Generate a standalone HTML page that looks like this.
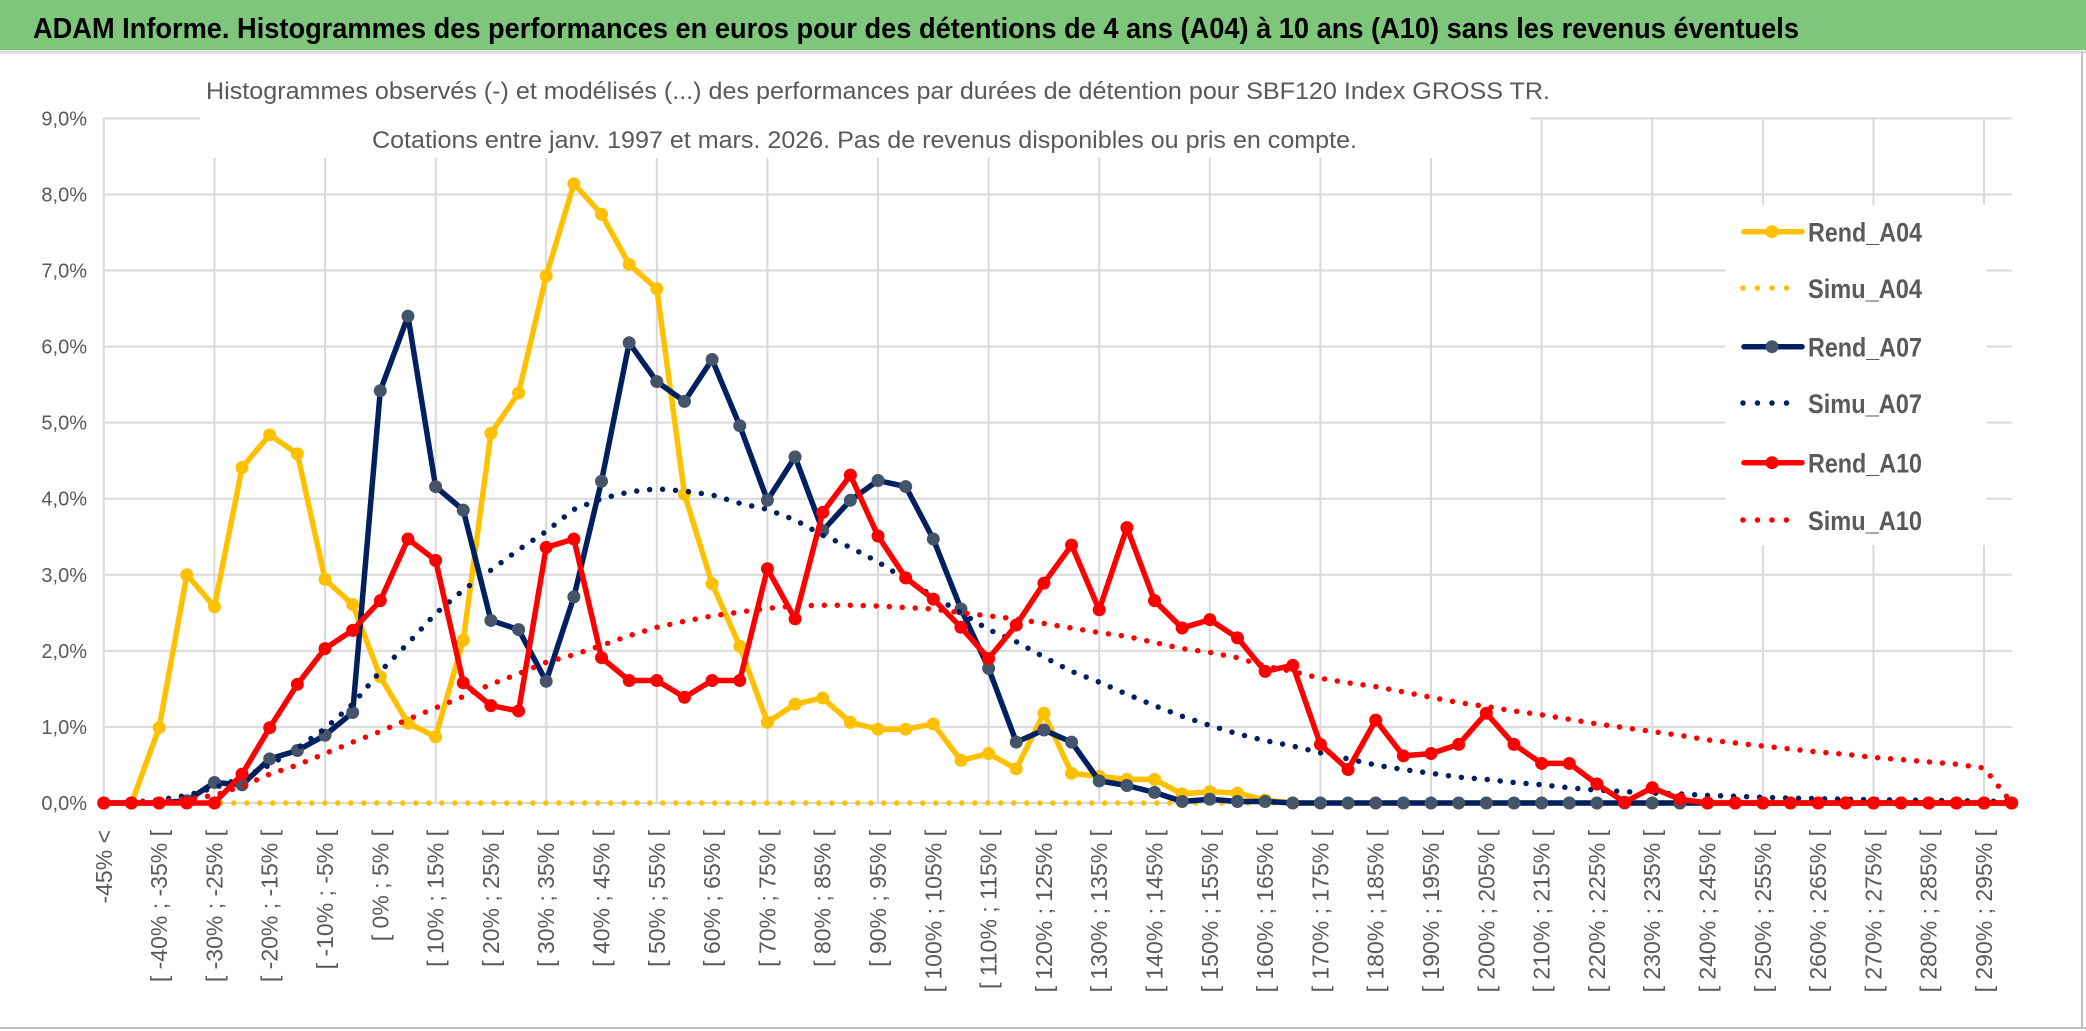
<!DOCTYPE html>
<html><head><meta charset="utf-8">
<style>
html,body{margin:0;padding:0;background:#fff;}
svg{display:block;font-family:"Liberation Sans",sans-serif;}
</style></head>
<body>
<svg id="chart" width="2086" height="1031" viewBox="0 0 2086 1031" xmlns="http://www.w3.org/2000/svg">
  <rect x="0" y="0" width="2086" height="1031" fill="#ffffff"/>
  <rect x="0" y="0" width="2086" height="50" fill="#7DC67C"/>
  <line x1="0" y1="52" x2="2086" y2="52" stroke="#d9d9d9" stroke-width="3"/>
  <text x="33" y="38" font-size="29" font-weight="bold" fill="#000" textLength="1766" lengthAdjust="spacingAndGlyphs">ADAM Informe. Histogrammes des performances en euros pour des détentions de 4 ans (A04) à 10 ans (A10) sans les revenus éventuels</text>
  <line x1="2082" y1="52" x2="2082" y2="1028" stroke="#bfbfbf" stroke-width="2"/>
  <line x1="0" y1="1028" x2="2086" y2="1028" stroke="#bfbfbf" stroke-width="2"/>
  <g id="grid"></g>
  <g id="yticks"></g>
  <g id="xticks"></g>
  <rect x="200" y="62" width="1330" height="96" fill="#ffffff"/>
  <text x="206" y="99" font-size="24" fill="#595959" textLength="1344" lengthAdjust="spacingAndGlyphs">Histogrammes observés (-) et modélisés (...) des performances par durées de détention pour SBF120 Index GROSS TR.</text>
  <text x="372" y="148" font-size="24" fill="#595959" textLength="985" lengthAdjust="spacingAndGlyphs">Cotations entre janv. 1997 et mars. 2026. Pas de revenus disponibles ou pris en compte.</text>
  <g id="series"></g>
  <g id="legend"></g>
</svg>
<script>
const categories = ["-45% <","[ -45% ; -40% [","[ -40% ; -35% [","[ -35% ; -30% [","[ -30% ; -25% [","[ -25% ; -20% [","[ -20% ; -15% [","[ -15% ; -10% [","[ -10% ; -5% [","[ -5% ; 0% [",
"[ 0% ; 5% [","[ 5% ; 10% [","[ 10% ; 15% [","[ 15% ; 20% [","[ 20% ; 25% [","[ 25% ; 30% [","[ 30% ; 35% [","[ 35% ; 40% [","[ 40% ; 45% [","[ 45% ; 50% [",
"[ 50% ; 55% [","[ 55% ; 60% [","[ 60% ; 65% [","[ 65% ; 70% [","[ 70% ; 75% [","[ 75% ; 80% [","[ 80% ; 85% [","[ 85% ; 90% [","[ 90% ; 95% [","[ 95% ; 100% [",
"[ 100% ; 105% [","[ 105% ; 110% [","[ 110% ; 115% [","[ 115% ; 120% [","[ 120% ; 125% [","[ 125% ; 130% [","[ 130% ; 135% [","[ 135% ; 140% [","[ 140% ; 145% [","[ 145% ; 150% [",
"[ 150% ; 155% [","[ 155% ; 160% [","[ 160% ; 165% [","[ 165% ; 170% [","[ 170% ; 175% [","[ 175% ; 180% [","[ 180% ; 185% [","[ 185% ; 190% [","[ 190% ; 195% [","[ 195% ; 200% [",
"[ 200% ; 205% [","[ 205% ; 210% [","[ 210% ; 215% [","[ 215% ; 220% [","[ 220% ; 225% [","[ 225% ; 230% [","[ 230% ; 235% [","[ 235% ; 240% [","[ 240% ; 245% [","[ 245% ; 250% [",
"[ 250% ; 255% [","[ 255% ; 260% [","[ 260% ; 265% [","[ 265% ; 270% [","[ 270% ; 275% [","[ 275% ; 280% [","[ 280% ; 285% [","[ 285% ; 290% [","[ 290% ; 295% [","[ 295% ; 300% ["];
const yTickValues = [0,1,2,3,4,5,6,7,8,9];
const yTickLabels = ["0,0%","1,0%","2,0%","3,0%","4,0%","5,0%","6,0%","7,0%","8,0%","9,0%"];
const rendA04 = [0,0,0.99,3.0,2.58,4.41,4.84,4.59,2.94,2.61,1.66,1.05,0.87,2.14,4.86,5.39,6.93,8.14,7.74,7.08,6.76,4.06,2.88,2.06,1.06,1.3,1.38,1.06,0.97,0.97,1.04,0.56,0.65,0.45,1.18,0.39,0.35,0.31,0.31,0.12,0.15,0.13,0.04,0,0,0,0,0,0,0,0,0,0,0,0,0,0,0,0,0,0,0,0,0,0,0,0,0,0,0];
const simuA04 = [0,0,0,0,0,0,0,0,0,0,0,0,0,0,0,0,0,0,0,0,0,0,0,0,0,0,0,0,0,0,0,0,0,0,0,0,0,0,0,0,0,0,0,0,0,0,0,0,0,0,0,0,0,0,0,0,0,0,0,0,0,0,0,0,0,0,0,0,0,0];
const rendA07 = [0,0,0,0.03,0.27,0.24,0.58,0.69,0.89,1.19,5.42,6.4,4.16,3.85,2.4,2.28,1.6,2.71,4.23,6.05,5.54,5.28,5.83,4.96,3.98,4.55,3.58,3.98,4.24,4.16,3.47,2.55,1.77,0.8,0.96,0.8,0.29,0.23,0.14,0.02,0.05,0.02,0.02,0,0,0,0,0,0,0,0,0,0,0,0,0,0,0,0,0,0,0,0,0,0,0,0,0,0,0];
const simuA07 = [0,0.01,0.04,0.1,0.2,0.33,0.5,0.72,0.98,1.3,1.73,2.1,2.49,2.8,3.06,3.33,3.57,3.86,4.0,4.09,4.13,4.1,4.05,3.94,3.86,3.72,3.52,3.36,3.17,2.94,2.72,2.5,2.28,2.12,1.92,1.73,1.59,1.43,1.28,1.14,1.02,0.91,0.82,0.75,0.66,0.58,0.5,0.44,0.39,0.34,0.31,0.27,0.24,0.2,0.17,0.15,0.13,0.12,0.1,0.09,0.075,0.065,0.057,0.05,0.044,0.04,0.035,0.03,0.025,0.02];
const rendA10 = [0,0,0,0,0,0.38,0.99,1.56,2.03,2.27,2.66,3.47,3.19,1.58,1.28,1.21,3.36,3.47,1.91,1.61,1.61,1.39,1.61,1.61,3.08,2.42,3.82,4.31,3.51,2.96,2.68,2.31,1.9,2.34,2.89,3.39,2.54,3.62,2.66,2.3,2.41,2.17,1.73,1.81,0.77,0.44,1.09,0.62,0.65,0.77,1.18,0.77,0.52,0.52,0.25,0.01,0.2,0.05,0,0,0,0,0,0,0,0,0,0,0,0];
const simuA10 = [0,0.01,0.02,0.05,0.1,0.22,0.38,0.5,0.65,0.8,0.94,1.1,1.25,1.4,1.56,1.7,1.85,1.95,2.07,2.2,2.31,2.39,2.46,2.51,2.56,2.59,2.6,2.6,2.59,2.57,2.55,2.5,2.46,2.42,2.36,2.3,2.24,2.19,2.11,2.03,1.98,1.91,1.8,1.73,1.64,1.58,1.53,1.46,1.39,1.32,1.27,1.21,1.16,1.1,1.04,0.99,0.94,0.89,0.83,0.79,0.75,0.71,0.67,0.64,0.6,0.57,0.54,0.51,0.46,0];
const seriesNames = ["Rend_A04","Simu_A04","Rend_A07","Simu_A07","Rend_A10","Simu_A10"];

const NS = "http://www.w3.org/2000/svg";
const X0 = 103.8, X1 = 2011.7, Y0 = 803, Y9 = 118.4, YMAX = 9;
function xPos(i){ return X0 + i * (X1 - X0) / (categories.length - 1); }
function yPos(v){ return Y0 - v * (Y0 - Y9) / YMAX; }
function mk(tag, attrs, parent){ const e = document.createElementNS(NS, tag); for (const k in attrs) e.setAttribute(k, attrs[k]); parent.appendChild(e); return e; }

const grid = document.getElementById('grid');
yTickValues.forEach((v, k) => {
  const l = mk('line', {x1: X0, x2: X1, y1: yPos(v), y2: yPos(v), stroke: '#d9d9d9', 'stroke-width': 2}, grid);
  
  
});
for (let i = 0; i < categories.length; i += 4) {
  const l = mk('line', {x1: xPos(i), x2: xPos(i), y1: yPos(YMAX), y2: yPos(0), stroke: '#d9d9d9', 'stroke-width': 2}, grid);
  
  
}
const yt = document.getElementById('yticks');
yTickValues.forEach((v, k) => {
  const t = mk('text', {x: 87, y: yPos(v) + 7, 'text-anchor': 'end', 'font-size': 20, fill: '#595959'}, yt);
  t.textContent = yTickLabels[k];
  
  
});
const xt = document.getElementById('xticks');
categories.forEach((c, i) => {
  if (i % 2) return;
  const x = xPos(i) + 8;
  const t = mk('text', {x: x, y: 830, 'text-anchor': 'end', 'font-size': 23, fill: '#595959', transform: 'rotate(-90 ' + x + ' 830)'}, xt);
  t.textContent = c;
  
  
});

const series = document.getElementById('series');
const styles = [
  {data: rendA04, color: '#FFC000', marker: '#FFC000', dotted: false},
  {data: simuA04, color: '#FFC000', dotted: true},
  {data: rendA07, color: '#002060', marker: '#44546A', dotted: false},
  {data: simuA07, color: '#002060', dotted: true},
  {data: rendA10, color: '#FF0000', marker: '#FF0000', dotted: false},
  {data: simuA10, color: '#FF0000', dotted: true}
];
styles.forEach((s, si) => {
  const g = mk('g', {}, series);
  
  
  const pts = s.data.map((v, i) => xPos(i).toFixed(1) + ',' + yPos(v).toFixed(1)).join(' ');
  const pl = mk('polyline', {points: pts, fill: 'none', stroke: s.color, 'stroke-linejoin': 'round', 'stroke-linecap': 'round',
    'stroke-width': 5.5, 'stroke-dasharray': s.dotted ? '0 13' : 'none'}, g);
  
  
  if (!s.dotted) {
    s.data.forEach((v, i) => {
      const c = mk('circle', {cx: xPos(i), cy: yPos(v), r: 6.5, fill: s.marker}, g);
      
      
    });
  }
});

const legend = document.getElementById('legend');
const lbg = mk('rect', {x: 1725, y: 205, width: 262, height: 340, fill: '#ffffff'}, legend);


const legendY = [231.7, 288, 346.7, 403, 462.7, 520];
seriesNames.forEach((n, k) => {
  const s = styles[k];
  const g = mk('g', {}, legend);
  
  
  const y = legendY[k];
  const ln = mk('line', {x1: s.dotted ? 1743 : 1744, x2: s.dotted ? 1795 : 1802, y1: y, y2: y, stroke: s.color, 'stroke-width': 5.5,
    'stroke-linecap': 'round', 'stroke-dasharray': s.dotted ? '0 14.5' : 'none'}, g);
  
  
  if (!s.dotted) {
    const c = mk('circle', {cx: 1772, cy: y, r: 6.5, fill: s.marker}, g);
    
    
  }
  const t = mk('text', {x: 1808, y: y + 10, 'font-size': 27, 'font-weight': 'bold', fill: '#5a5a5a', textLength: 114, lengthAdjust: 'spacingAndGlyphs'}, g);
  t.textContent = n;
  
  
});
</script>
</body></html>
